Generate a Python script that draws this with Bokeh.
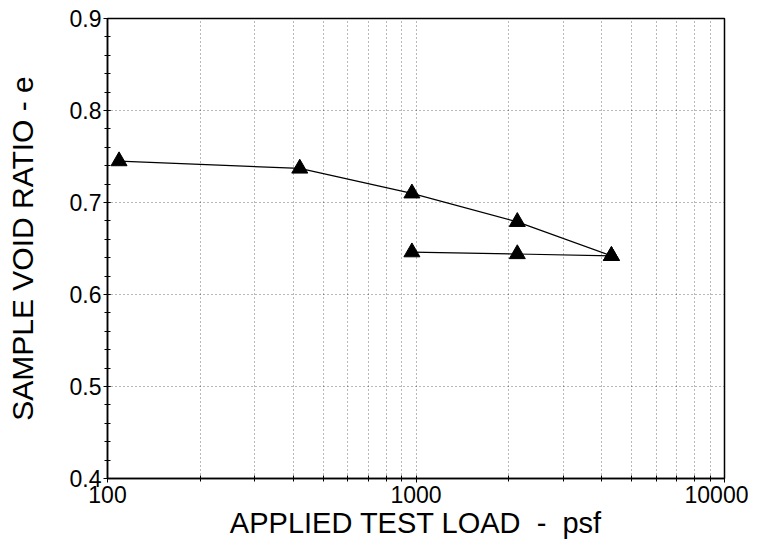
from bokeh.plotting import figure
from bokeh.models import FixedTicker, PrintfTickFormatter, Range1d
from bokeh.embed import file_html
from bokeh.resources import INLINE

# Loading curve
load_psf = [109, 420, 970, 2130, 4300]
load_e = [0.745, 0.737, 0.710, 0.679, 0.642]
# Unloading curve
unload_psf = [4300, 2130, 970]
unload_e = [0.642, 0.644, 0.646]

x_major = [100, 1000, 10000]
x_minor = [200, 300, 400, 500, 600, 700, 800, 900,
           2000, 3000, 4000, 5000, 6000, 7000, 8000, 9000]
y_major = [0.4, 0.5, 0.6, 0.7, 0.8, 0.9]
y_minor = [round(0.4 + 0.02 * i, 2) for i in range(26)]

FONT = "Liberation Sans"

p = figure(width=748, height=550, x_axis_type="log",
           x_range=Range1d(100, 10000), y_range=Range1d(0.4, 0.9),
           output_backend="svg", toolbar_location=None,
           min_border_left=107, min_border_right=24,
           min_border_top=18, min_border_bottom=72)

p.xaxis.ticker = FixedTicker(ticks=x_major, minor_ticks=x_minor)
p.yaxis.ticker = FixedTicker(ticks=y_major, minor_ticks=y_minor)
p.xaxis.formatter = PrintfTickFormatter(format="%d")
p.yaxis.formatter = PrintfTickFormatter(format="%.1f")

p.xaxis.axis_label = "APPLIED TEST LOAD\u00a0\u00a0-\u00a0\u00a0psf"
p.yaxis.axis_label = "SAMPLE VOID RATIO - e"
for ax in (p.xaxis, p.yaxis):
    ax.axis_label_text_font = FONT
    ax.axis_label_text_font_style = "normal"
    ax.axis_label_text_color = "black"
    ax.major_label_text_font = FONT
    ax.major_label_text_font_size = "23px"
    ax.major_label_text_color = "black"
    ax.axis_line_color = "black"
    ax.axis_line_width = 1.5
    ax.major_tick_line_color = "black"
    ax.minor_tick_line_color = "black"
    ax.major_tick_in = 3
    ax.major_tick_out = 4
    ax.minor_tick_in = 3
    ax.minor_tick_out = 3
p.xaxis.axis_label_text_font_size = "29px"
p.yaxis.axis_label_text_font_size = "30px"
p.xaxis.axis_label_standoff = 1
p.yaxis.axis_label_standoff = 28
p.xaxis.major_label_standoff = 3
p.yaxis.major_label_standoff = 2

p.xgrid.grid_line_color = "black"
p.xgrid.grid_line_alpha = 0.55
p.xgrid.grid_line_dash = "1 3"
p.xgrid.minor_grid_line_color = "black"
p.xgrid.minor_grid_line_alpha = 0.55
p.xgrid.minor_grid_line_dash = "1 3"
p.ygrid.grid_line_color = "black"
p.ygrid.grid_line_alpha = 0.55
p.ygrid.grid_line_dash = "1 3"

p.outline_line_color = "black"
p.outline_line_width = 1.5

p.line(load_psf, load_e, line_color="black", line_width=1.2)
p.line(unload_psf, unload_e, line_color="black", line_width=1.2)
p.scatter(load_psf, load_e, marker="triangle", size=16, color="black")
p.scatter(unload_psf, unload_e, marker="triangle", size=16, color="black")

open("out.html", "w").write(file_html(p, INLINE))
